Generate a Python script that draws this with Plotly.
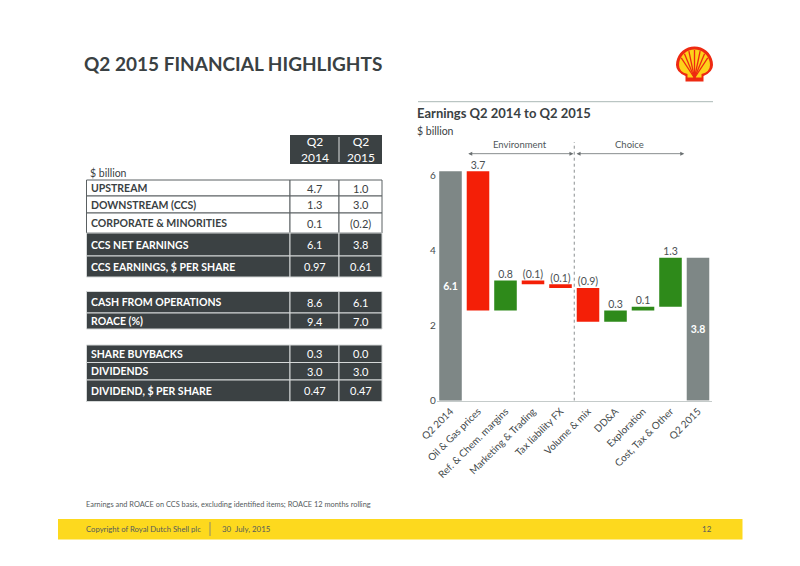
import math
import plotly.graph_objects as go

W, H = 800, 566
PAGE_PAD = 8  # the html body margin shifts the figure by 8px

# waterfall data ($ billion)
categories = ["Q2 2014", "Oil & Gas prices", "Ref. & Chem. margins", "Marketing & Trading",
              "Tax liability FX", "Volume & mix", "DD&A", "Exploration",
              "Cost, Tax & Other", "Q2 2015"]
changes = [6.1, -3.7, 0.8, -0.1, -0.1, -0.9, 0.3, 0.1, 1.3, 0]
measures = ["absolute"] + ["relative"] * 8 + ["total"]
bar_labels = ["6.1", "3.7", "0.8", "(0.1)", "(0.1)", "(0.9)", "0.3", "0.1", "1.3", "3.8"]

# table data
table_header = ["Q2<br>2014", "Q2<br>2015"]
table_labels = ["UPSTREAM", "DOWNSTREAM (CCS)", "CORPORATE & MINORITIES", "CCS NET EARNINGS",
                "CCS EARNINGS, $ PER SHARE", "CASH FROM OPERATIONS", "ROACE (%)",
                "SHARE BUYBACKS", "DIVIDENDS", "DIVIDEND, $ PER SHARE"]
q2_2014 = ["4.7", "1.3", "0.1", "6.1", "0.97", "8.6", "9.4", "0.3", "3.0", "0.47"]
q2_2015 = ["1.0", "3.0", "(0.2)", "3.8", "0.61", "6.1", "7.0", "0.0", "3.0", "0.47"]

# table geometry (pixels) and row styles
row_tops = [180, 196, 213, 233, 256, 291.5, 313, 345, 362.5, 380]
row_bottoms = [196, 213, 233, 256, 277, 313, 329, 362.5, 380, 401.5]
row_dark = [False, False, False, True, True, True, True, True, True, True]
col_edges = [86.5, 290, 339, 382]

DARK = "#3b4143"
TEXT = "#3a4143"
GREY_BAR = "#7e8786"
RED = "#f41f07"
GREEN = "#2e8a1a"
YELLOW = "#fdd91e"
FONT = "Lato"


def fx(px):
    return (px - PAGE_PAD) / W


def fy(py):
    return 1 - (py - PAGE_PAD) / H


shapes = []
annotations = []


def rect(x0, y0, x1, y1, fill, line_color=None, line_width=0):
    shapes.append(dict(type="rect", xref="paper", yref="paper",
                       x0=fx(x0), x1=fx(x1), y0=fy(y1), y1=fy(y0),
                       fillcolor=fill, layer="below",
                       line=dict(color=line_color or fill, width=line_width)))


def text(x, y, s, size, color=TEXT, xanchor="left", bold=False):
    annotations.append(dict(xref="paper", yref="paper", x=fx(x), y=fy(y), text=s,
                            showarrow=False, xanchor=xanchor, yanchor="middle",
                            font=dict(family=FONT, size=size, color=color,
                                      weight="bold" if bold else "normal")))


# ---- slide furniture
text(82, 63, "Q2 2015 FINANCIAL HIGHLIGHTS", 19, bold=True)
text(415, 113, "Earnings Q2 2014 to Q2 2015", 13, bold=True)
text(415, 131, "$ billion", 10.5)
shapes.append(dict(type="line", xref="paper", yref="paper", x0=fx(418), x1=fx(713),
                   y0=fy(101.7), y1=fy(101.7), line=dict(color="#aab8b5", width=1)))
text(84, 504, "Earnings and ROACE on CCS basis, excluding identified items; ROACE 12 months rolling",
     7.4, color="#555b5d")
rect(58, 519, 742.5, 539.5, YELLOW)
text(84, 529, "Copyright of Royal Dutch Shell plc", 7.7, color="#555b5d")
shapes.append(dict(type="line", xref="paper", yref="paper", x0=fx(210), x1=fx(210),
                   y0=fy(522), y1=fy(536), line=dict(color="#8a8a70", width=1)))
text(220, 529, "30  July, 2015", 7.9, color="#555b5d")
text(707, 529, "12", 8, color="#555b5d", xanchor="center")

# ---- Shell logo
cx, cy = 694.5, 65.0


def shell_path(rx, ry, base_half, base_top, base_bot):
    pts = []
    for k in range(0, 19):
        a = math.pi - math.pi * k / 18
        pts.append((cx + rx * math.cos(a), cy - ry * math.sin(a)))
    d = "M %f,%f " % (fx(pts[0][0]), fy(pts[0][1]))
    for px_, py_ in pts[1:]:
        d += "L %f,%f " % (fx(px_), fy(py_))
    d += "Q %f,%f %f,%f " % (fx(cx + rx), fy(cy + 7), fx(cx + base_half), fy(base_top))
    d += "L %f,%f L %f,%f L %f,%f " % (fx(cx + base_half), fy(base_bot),
                                      fx(cx - base_half), fy(base_bot),
                                      fx(cx - base_half), fy(base_top))
    d += "Q %f,%f %f,%f Z" % (fx(cx - rx), fy(cy + 7), fx(cx - rx), fy(cy))
    return d


shapes.append(dict(type="path", xref="paper", yref="paper",
                   path=shell_path(18.5, 18.5, 9, 76, 81.5), fillcolor="#ee2a12",
                   line=dict(width=0)))
shapes.append(dict(type="path", xref="paper", yref="paper",
                   path=shell_path(15.5, 15.5, 7, 74, 77.5), fillcolor="#fdd21a",
                   line=dict(width=0)))
for ang in [28, 48, 68, 90, 112, 132, 152]:
    a = math.radians(ang)
    shapes.append(dict(type="line", xref="paper", yref="paper",
                       x0=fx(cx), y0=fy(78), x1=fx(cx + 15 * math.cos(a)),
                       y1=fy(cy - 15 * math.sin(a)),
                       line=dict(color="#ee2a12", width=1.3)))

# ---- table
rect(col_edges[1], 135, col_edges[3], 164, DARK)
shapes.append(dict(type="line", xref="paper", yref="paper", x0=fx(col_edges[2]), x1=fx(col_edges[2]),
                   y0=fy(137), y1=fy(162), line=dict(color="#e0e2e2", width=1)))
for j, h in enumerate(table_header):
    text((col_edges[j + 1] + col_edges[j + 2]) / 2, 149.5, h, 12, color="white", xanchor="center")
text(88, 172.5, "$ billion", 10.5)

for i, lab in enumerate(table_labels):
    t, b = row_tops[i], row_bottoms[i]
    fill = DARK if row_dark[i] else "white"
    edge = "#d5d8d8" if row_dark[i] else "#5a6062"
    tc = "white" if row_dark[i] else TEXT
    for j in range(3):
        rect(col_edges[j], t, col_edges[j + 1], b, fill, edge, 1)
    mid = (t + b) / 2
    text(89, mid, lab, 10.5, color=tc, bold=True)
    text((col_edges[1] + col_edges[2]) / 2, mid, q2_2014[i], 11, color=tc, xanchor="center")
    text((col_edges[2] + col_edges[3]) / 2, mid, q2_2015[i], 11, color=tc, xanchor="center")

# ---- waterfall
fig = go.Figure()
fig.add_trace(go.Waterfall(
    x=categories, y=changes, measure=measures,
    text=[bar_labels[i] if measures[i] != "relative" else "" for i in range(len(categories))],
    textposition="inside", insidetextanchor="middle",
    textfont=dict(family=FONT, size=10.5, color="white", weight="bold"),
    decreasing=dict(marker=dict(color=RED)),
    increasing=dict(marker=dict(color=GREEN)),
    totals=dict(marker=dict(color=GREY_BAR)),
    connector=dict(visible=False),
    hoverinfo="skip",
))

# labels above the change bars
running = 0.0
tops = []
for i, v in enumerate(changes):
    if measures[i] == "absolute":
        running = v
    elif measures[i] == "relative":
        tops.append(max(running, running + v))
        running += v
fig.add_trace(go.Scatter(
    x=categories[1:9], y=tops, mode="text", text=bar_labels[1:9],
    textposition="top center", textfont=dict(family=FONT, size=10.5, color="#4a5052"),
    hoverinfo="skip", cliponaxis=False,
))

# y scale: 0 at 400.7px, 37.6 px per unit
y_top = 7.2
y0_px, unit_px = 400.7, 37.6
y_domain = [fy(y0_px), fy(y0_px - y_top * unit_px)]
x_domain = [fx(436.75), fx(711.75)]

# Environment / Choice divider and arrows
shapes.append(dict(type="line", xref="x", yref="y", x0=4.5, x1=4.5, y0=0, y1=6.88,
                   line=dict(color="#8a8f90", width=1, dash="dot")))
for x0, x1, lab in [(0.59, 4.47, "Environment"), (4.53, 8.5, "Choice")]:
    annotations.append(dict(xref="x", yref="y", axref="x", ayref="y", x=x1, y=6.57,
                            ax=x0, ay=6.57, text="", showarrow=True, arrowside="end+start",
                            arrowhead=2, arrowsize=1, arrowwidth=0.8, arrowcolor="#6b7072",
                            standoff=0, startstandoff=0))
    annotations.append(dict(xref="x", yref="y", x=(x0 + x1) / 2, y=6.82, text=lab,
                            showarrow=False, yanchor="middle",
                            font=dict(family=FONT, size=9.5, color="#50575a")))

fig.update_layout(
    width=W, height=H,
    margin=dict(l=0, r=0, t=0, b=0, autoexpand=False),
    paper_bgcolor="white", plot_bgcolor="white",
    showlegend=False,
    waterfallgap=0.18,
    font=dict(family=FONT, color=TEXT),
    shapes=shapes, annotations=annotations,
    xaxis=dict(domain=x_domain, type="category", tickangle=-45, showgrid=False,
               showline=True, linecolor="#c5cbca", linewidth=1, ticks="", automargin=False,
               tickfont=dict(family=FONT, size=10, color="#444a4c"), fixedrange=True),
    yaxis=dict(domain=y_domain, range=[0, y_top], tickvals=[0, 2, 4, 6], showgrid=False,
               zeroline=False, showline=False, ticks="", automargin=False,
               tickfont=dict(family=FONT, size=10, color="#444a4c"), fixedrange=True),
)

fig.write_html("out.html", config={"displayModeBar": False})
